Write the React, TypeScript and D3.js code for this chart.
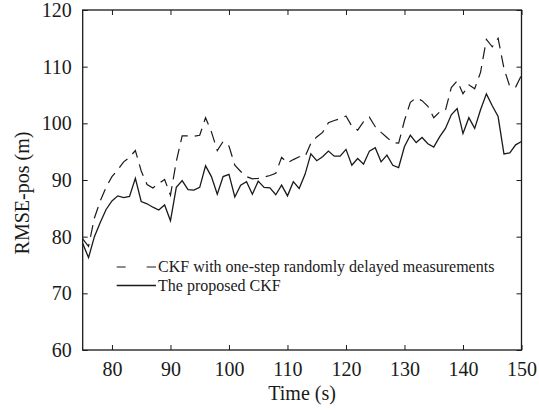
import React, { useEffect, useRef } from "react";
import * as d3 from "d3";

// time (s)
const times = [
  75, 76, 77, 78, 79, 80, 81, 82, 83, 84, 85, 86, 87, 88, 89, 90, 91, 92, 93, 94,
  95, 96, 97, 98, 99, 100, 101, 102, 103, 104, 105, 106, 107, 108, 109, 110, 111, 112, 113, 114,
  115, 116, 117, 118, 119, 120, 121, 122, 123, 124, 125, 126, 127, 128, 129, 130, 131, 132, 133, 134,
  135, 136, 137, 138, 139, 140, 141, 142, 143, 144, 145, 146, 147, 148, 149, 150,
];

// CKF with one-step randomly delayed measurements
const delayedCkf = [
  79.6, 78.3, 83.3, 86.3, 88.7, 90.6, 91.8, 93.2, 94.0, 95.2, 91.6, 89.2, 88.6, 89.4, 90.1, 87.3, 93.3, 97.8, 97.8, 97.7,
  97.9, 101.0, 98.5, 95.2, 96.8, 96.0, 92.6, 91.5, 90.6, 90.2, 90.3, 90.5, 90.8, 91.2, 94.0, 93.0, 93.6, 94.1, 94.1, 96.5,
  97.6, 98.4, 100.1, 100.5, 100.8, 101.3, 99.5, 98.8, 100.3, 101.1, 99.4, 98.4, 97.5, 96.6, 96.5, 100.5, 103.7, 104.5, 104.0, 103.0,
  101.0, 102.0, 102.3, 106.3, 107.5, 105.2, 106.8, 106.1, 109.0, 114.8, 113.5, 115.0, 109.7, 106.5, 106.4, 108.5,
];

// The proposed CKF
const proposedCkf = [
  78.8, 76.3, 80.0, 82.5, 84.8, 86.3, 87.2, 86.9, 87.1, 90.3, 86.2, 85.8, 85.2, 84.7, 85.6, 82.8, 88.7, 89.9, 88.3, 88.2,
  88.7, 92.5, 90.6, 87.5, 90.6, 91.0, 87.0, 89.1, 89.7, 87.5, 89.8, 88.7, 88.6, 87.4, 89.1, 87.2, 89.7, 88.5, 91.0, 94.6,
  93.4, 94.1, 95.1, 94.2, 94.2, 95.4, 92.6, 93.8, 92.8, 95.1, 95.7, 93.2, 94.4, 92.6, 92.2, 95.9, 97.9, 96.6, 97.5, 96.4,
  95.8, 97.6, 99.1, 101.5, 102.6, 98.2, 101.0, 99.1, 102.4, 105.2, 103.1, 101.2, 94.6, 94.8, 96.2, 96.8,
];

const xTicks = [80, 90, 100, 110, 120, 130, 140, 150];
const yTicks = [60, 70, 80, 90, 100, 110, 120];
const legendLabels = ["CKF with one-step randomly delayed measurements", "The proposed CKF"];

const W = 539;
const H = 410;
const left = 82.7;
const right = 521.5;
const top = 10;
const bottom = 350;
const font = "'Liberation Serif', 'Times New Roman', serif";
const ink = "#1a1a1a";

function App() {
  const svgRef = useRef<SVGSVGElement | null>(null);

  useEffect(() => {
    const svg = d3.select(svgRef.current);
    svg.selectAll("*").remove();

    const x = d3.scaleLinear().domain([75, 150]).range([left, right]);
    const y = d3.scaleLinear().domain([60, 120]).range([bottom, top]);

    const line = d3
      .line<number>()
      .x((_, i) => x(times[i]))
      .y((d) => y(d));

    // box
    svg
      .append("rect")
      .attr("x", left)
      .attr("y", top)
      .attr("width", right - left)
      .attr("height", bottom - top)
      .attr("fill", "none")
      .attr("stroke", ink)
      .attr("stroke-width", 1.3);

    const styleAxis = (g: any) => {
      g.select(".domain").remove();
      g.selectAll(".tick line").attr("stroke", ink).attr("stroke-width", 1);
      g.selectAll(".tick text")
        .attr("fill", ink)
        .attr("font-family", font)
        .attr("font-size", 20);
    };

    svg
      .append("g")
      .attr("transform", `translate(0,${bottom})`)
      .call(d3.axisBottom(x).tickValues(xTicks).tickSize(-5).tickPadding(12))
      .call(styleAxis);

    svg
      .append("g")
      .attr("transform", `translate(0,${top})`)
      .call(d3.axisTop(x).tickValues(xTicks).tickSize(-5).tickFormat(() => ""))
      .call(styleAxis);

    svg
      .append("g")
      .attr("transform", `translate(${left},0)`)
      .call(d3.axisLeft(y).tickValues(yTicks).tickSize(-5).tickPadding(11))
      .call(styleAxis);

    svg
      .append("g")
      .attr("transform", `translate(${right},0)`)
      .call(d3.axisRight(y).tickValues(yTicks).tickSize(-5).tickFormat(() => ""))
      .call(styleAxis);

    // series
    svg
      .append("path")
      .attr("d", line(delayedCkf))
      .attr("fill", "none")
      .attr("stroke", ink)
      .attr("stroke-width", 1.2)
      .attr("stroke-dasharray", "12,7");

    svg
      .append("path")
      .attr("d", line(proposedCkf))
      .attr("fill", "none")
      .attr("stroke", ink)
      .attr("stroke-width", 1.3);

    // axis titles
    svg
      .append("text")
      .attr("x", (left + right) / 2)
      .attr("y", 400)
      .attr("text-anchor", "middle")
      .attr("font-family", font)
      .attr("font-size", 20)
      .attr("fill", ink)
      .text("Time (s)");

    svg
      .append("text")
      .attr("transform", `translate(29,193) rotate(-90)`)
      .attr("text-anchor", "middle")
      .attr("font-family", font)
      .attr("font-size", 20)
      .attr("fill", ink)
      .text("RMSE-pos (m)");

    // legend
    const lg = svg.append("g");
    const rows = [267, 285.5];
    lg.append("line")
      .attr("x1", 116.7).attr("x2", 156)
      .attr("y1", rows[0]).attr("y2", rows[0])
      .attr("stroke", ink).attr("stroke-width", 1.2)
      .attr("stroke-dasharray", "9,21,10");
    lg.append("line")
      .attr("x1", 116.7).attr("x2", 156)
      .attr("y1", rows[1]).attr("y2", rows[1])
      .attr("stroke", ink).attr("stroke-width", 1.3);
    lg.selectAll("text")
      .data(legendLabels)
      .enter()
      .append("text")
      .attr("x", 158)
      .attr("y", (_, i) => rows[i])
      .attr("dy", "0.33em")
      .attr("font-family", font)
      .attr("font-size", 16)
      .attr("fill", ink)
      .text((d) => d);
  }, []);

  return (
    <div style={{ position: "fixed", left: 0, top: 0 }}>
      <svg ref={svgRef} width={W} height={H} style={{ display: "block", background: "#fff" }} />
    </div>
  );
}

export default App;
